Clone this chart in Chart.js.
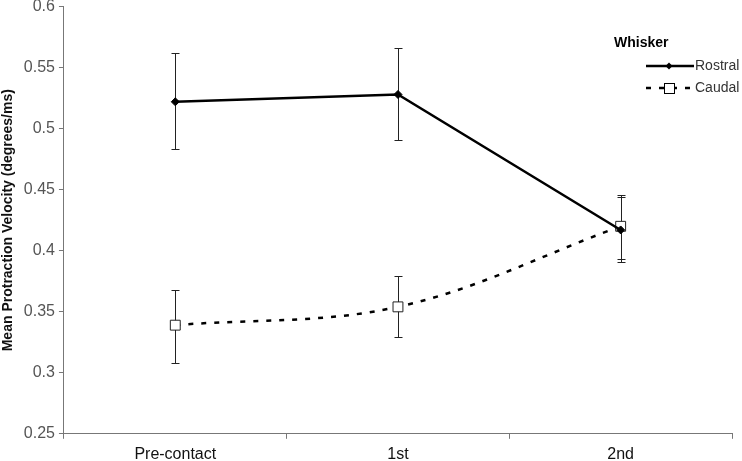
<!DOCTYPE html>
<html lang="en">
<head>
    <meta charset="UTF-8">
    <title>Mean Protraction Velocity</title>
    <script src="https://cdn.jsdelivr.net/npm/chart.js"></script>
    <style>
        html, body { margin: 0; padding: 0; background: #fff; overflow: hidden; width: 742px; height: 461px; }
        /* the plot sits tight against the top and bottom edges in the original */
        #wrap { width: 742px; height: 477px; margin-top: -7px; }
    </style>
</head>
<body>
    <div id="wrap"><canvas id="velocityChart"></canvas></div>

    <script>
        const categories = ['Pre-contact', '1st', '2nd'];
        const rostral = [0.522, 0.528, 0.417];
        const rostralLow = [0.483, 0.491, 0.391];
        const rostralHigh = [0.562, 0.566, 0.444];
        const caudal = [0.339, 0.354, 0.420];
        const caudalLow = [0.308, 0.329, 0.393];
        const caudalHigh = [0.368, 0.379, 0.446];
        const yTicks = [0.25, 0.3, 0.35, 0.4, 0.45, 0.5, 0.55, 0.6];

        const FONT = 'Arial, "Liberation Sans", sans-serif';

        // error bars, drawn under the lines
        const errorBars = {
            id: 'errorBars',
            beforeDatasetsDraw(chart) {
                const { ctx, scales: { x, y } } = chart;
                const sets = [[rostralLow, rostralHigh], [caudalLow, caudalHigh]];
                ctx.save();
                ctx.strokeStyle = '#222';
                ctx.lineWidth = 1;
                sets.forEach(([lo, hi]) => {
                    categories.forEach((c, i) => {
                        const px = Math.round(x.getPixelForValue(i)) + 0.5;
                        const yl = Math.round(y.getPixelForValue(lo[i])) + 0.5;
                        const yh = Math.round(y.getPixelForValue(hi[i])) + 0.5;
                        ctx.beginPath();
                        ctx.moveTo(px, yl); ctx.lineTo(px, yh);
                        ctx.moveTo(px - 4, yl); ctx.lineTo(px + 4, yl);
                        ctx.moveTo(px - 4, yh); ctx.lineTo(px + 4, yh);
                        ctx.stroke();
                    });
                });
                ctx.restore();
            }
        };

        // legend box in the upper right, like the original
        // (canvas is shifted up 7px, so add 7 to page y)
        const whiskerLegend = {
            id: 'whiskerLegend',
            afterDraw(chart) {
                const ctx = chart.ctx;
                ctx.save();
                ctx.translate(0, 7);
                ctx.fillStyle = '#000';
                ctx.textBaseline = 'middle';
                ctx.font = 'bold 14px ' + FONT;
                ctx.fillText('Whisker', 614, 43);

                ctx.font = '14px ' + FONT;
                // Rostral
                ctx.strokeStyle = '#000';
                ctx.lineWidth = 2.5;
                ctx.beginPath(); ctx.moveTo(646, 66); ctx.lineTo(694, 66); ctx.stroke();
                ctx.beginPath();
                ctx.moveTo(669, 62.5); ctx.lineTo(672.5, 66); ctx.lineTo(669, 69.5); ctx.lineTo(665.5, 66);
                ctx.closePath(); ctx.fill();
                ctx.fillStyle = '#333';
                ctx.fillText('Rostral', 695, 66);

                // Caudal
                ctx.setLineDash([5, 8]);
                ctx.beginPath(); ctx.moveTo(646, 88); ctx.lineTo(694, 88); ctx.stroke();
                ctx.setLineDash([]);
                ctx.fillStyle = '#fff';
                ctx.fillRect(664, 83, 10, 10);
                ctx.lineWidth = 1;
                ctx.strokeRect(664.5, 83.5, 10, 10);
                ctx.fillStyle = '#333';
                ctx.fillText('Caudal', 695, 88);
                ctx.restore();
            }
        };

        const ctx = document.getElementById('velocityChart').getContext('2d');
        new Chart(ctx, {
            type: 'line',
            data: {
                labels: categories,
                datasets: [
                    {
                        label: 'Rostral',
                        data: rostral,
                        borderColor: '#000',
                        backgroundColor: '#000',
                        borderWidth: 2.5,
                        tension: 0,
                        pointStyle: 'rectRot',
                        pointRadius: 4,
                        pointBorderWidth: 1,
                        pointBackgroundColor: '#000',
                        pointBorderColor: '#000'
                    },
                    {
                        label: 'Caudal',
                        data: caudal,
                        borderColor: '#000',
                        backgroundColor: '#fff',
                        borderWidth: 2.5,
                        borderDash: [5, 8],
                        tension: 0.35,
                        pointStyle: 'rect',
                        pointRadius: 7,
                        pointBorderWidth: 1,
                        pointBackgroundColor: '#fff',
                        pointBorderColor: '#222'
                    }
                ]
            },
            options: {
                responsive: true,
                maintainAspectRatio: false,
                animation: false,
                layout: { padding: { top: 0, right: 10, bottom: 0, left: 0 } },
                plugins: {
                    legend: { display: false },
                    tooltip: { enabled: false }
                },
                scales: {
                    x: {
                        offset: true,
                        border: { color: '#777', width: 1 },
                        grid: { offset: true, drawOnChartArea: false, drawTicks: true, tickLength: 5, color: '#777' },
                        ticks: { color: '#111', font: { family: FONT, size: 16 }, padding: 6 }
                    },
                    y: {
                        min: 0.25,
                        max: 0.6,
                        border: { color: '#777', width: 1 },
                        grid: { drawOnChartArea: false, drawTicks: true, tickLength: 5, color: '#777' },
                        afterBuildTicks: (axis) => {
                            axis.ticks = yTicks.map(v => ({ value: v }));
                        },
                        ticks: {
                            color: '#555',
                            font: { family: FONT, size: 16 },
                            padding: 4,
                            callback: (v) => String(Number(v.toFixed(2)))
                        },
                        title: {
                            display: true,
                            text: 'Mean Protraction Velocity (degrees/ms)',
                            color: '#111',
                            font: { family: FONT, size: 14, weight: 'bold' },
                            padding: { top: 0, bottom: 3 }
                        }
                    }
                }
            },
            plugins: [errorBars, whiskerLegend]
        });
    </script>
</body>
</html>
